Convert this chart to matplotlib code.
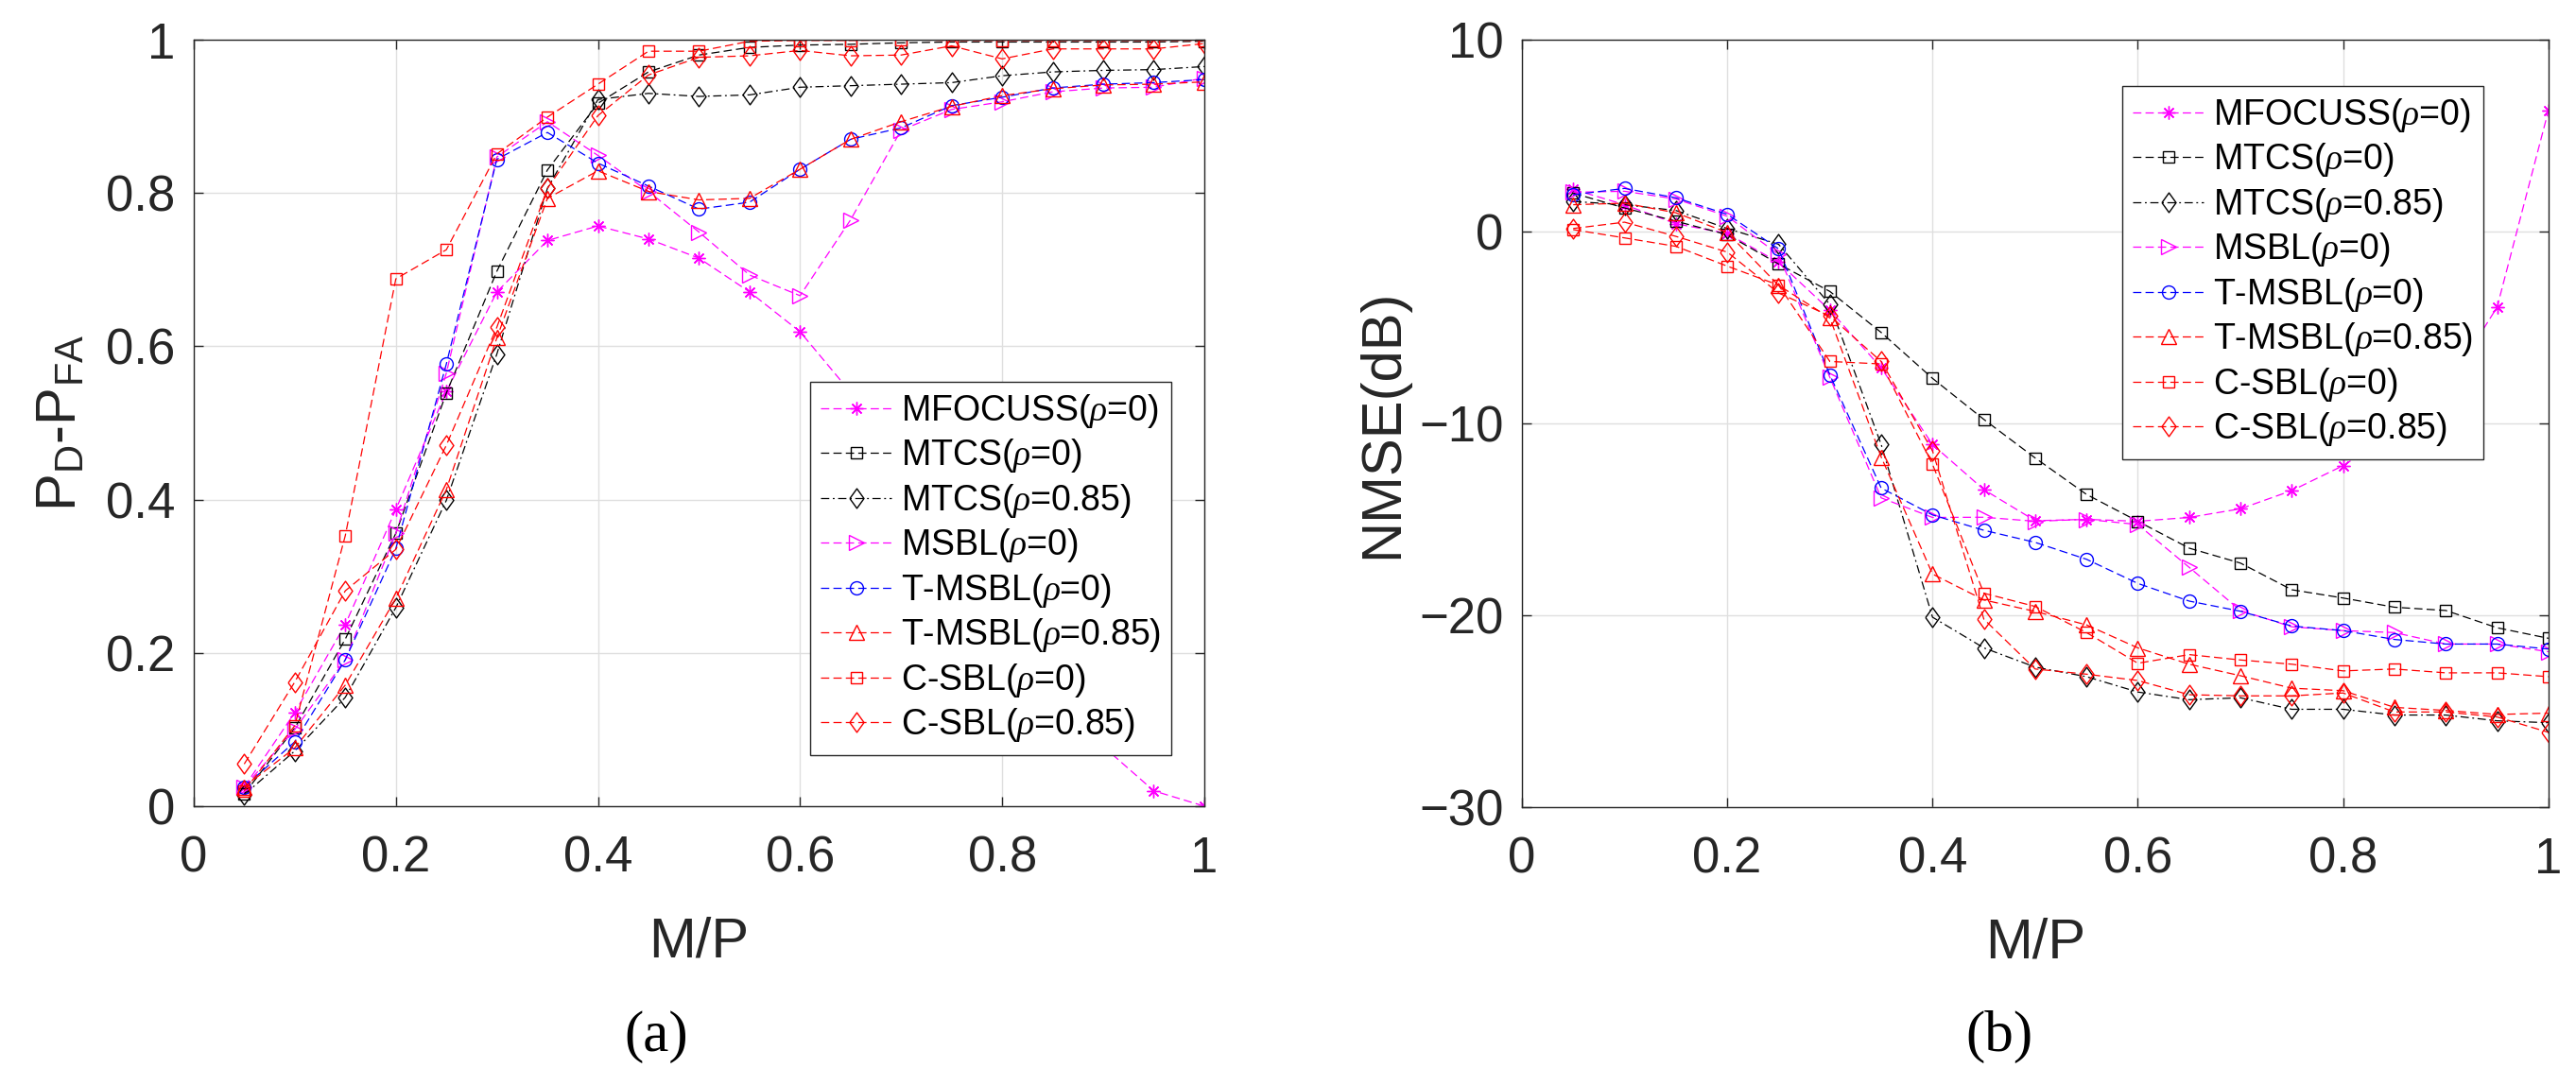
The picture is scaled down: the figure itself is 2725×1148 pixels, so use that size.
import matplotlib
matplotlib.use("Agg")
import matplotlib.pyplot as plt

plt.rcParams['font.family'] = ['Liberation Sans', 'DejaVu Sans']
plt.rcParams['mathtext.fontset'] = 'custom'
plt.rcParams['mathtext.rm'] = 'Liberation Sans'
plt.rcParams['mathtext.it'] = 'Liberation Serif:italic'

# M/P values
mp = [0.05, 0.10, 0.15, 0.20, 0.25, 0.30, 0.35, 0.40, 0.45, 0.50,
      0.55, 0.60, 0.65, 0.70, 0.75, 0.80, 0.85, 0.90, 0.95, 1.00]

labels = [r'MFOCUSS($\rho$=0)', r'MTCS($\rho$=0)', r'MTCS($\rho$=0.85)', r'MSBL($\rho$=0)',
          r'T-MSBL($\rho$=0)', r'T-MSBL($\rho$=0.85)', r'C-SBL($\rho$=0)', r'C-SBL($\rho$=0.85)']

# (a) PD - PFA
mfocuss_pd = [0.025, 0.122, 0.237, 0.387, 0.541, 0.671, 0.738, 0.757, 0.740, 0.715,
              0.671, 0.619, 0.54, 0.45, 0.35, 0.25, 0.16, 0.078, 0.020, 0.0]
mtcs0_pd = [0.016, 0.102, 0.218, 0.356, 0.539, 0.698, 0.830, 0.917, 0.958, 0.980,
            0.990, 0.993, 0.994, 0.996, 0.997, 0.997, 0.997, 0.997, 0.997, 0.998]
mtcs85_pd = [0.015, 0.072, 0.142, 0.259, 0.399, 0.590, 0.806, 0.922, 0.930, 0.926,
             0.928, 0.938, 0.940, 0.942, 0.944, 0.953, 0.958, 0.960, 0.961, 0.965]
msbl_pd = [0.025, 0.100, 0.191, 0.356, 0.565, 0.847, 0.893, 0.849, 0.802, 0.749,
           0.693, 0.666, 0.765, 0.882, 0.909, 0.919, 0.932, 0.937, 0.938, 0.950]
tmsbl0_pd = [0.025, 0.084, 0.191, 0.336, 0.577, 0.844, 0.879, 0.839, 0.809, 0.779,
             0.788, 0.831, 0.870, 0.885, 0.914, 0.925, 0.937, 0.942, 0.944, 0.948]
tmsbl85_pd = [0.025, 0.076, 0.158, 0.271, 0.413, 0.611, 0.793, 0.829, 0.802, 0.791,
              0.793, 0.831, 0.870, 0.893, 0.913, 0.927, 0.936, 0.941, 0.942, 0.945]
csbl0_pd = [0.020, 0.105, 0.353, 0.688, 0.726, 0.851, 0.899, 0.942, 0.985, 0.985,
            0.998, 0.999, 0.999, 1.000, 0.999, 0.999, 0.999, 0.999, 0.999, 0.999]
csbl85_pd = [0.055, 0.162, 0.281, 0.335, 0.471, 0.625, 0.806, 0.901, 0.954, 0.977,
             0.979, 0.986, 0.979, 0.980, 0.992, 0.975, 0.988, 0.988, 0.988, 0.995]

# (b) NMSE (dB)
mfocuss_nmse = [2.2, 1.4, 0.41, -0.1, -1.6, -4.1, -7.1, -11.1, -13.45, -15.07,
                -15.0, -15.1, -14.9, -14.45, -13.5, -12.2, -10.5, -8.2, -3.94, 6.31]
mtcs0_nmse = [2.0, 1.23, 0.54, -0.16, -1.69, -3.12, -5.26, -7.65, -9.79, -11.8,
              -13.7, -15.1, -16.5, -17.28, -18.67, -19.1, -19.58, -19.75, -20.65, -21.2]
mtcs85_nmse = [1.57, 1.4, 1.1, 0.16, -0.66, -3.8, -11.1, -20.1, -21.7, -22.7,
               -23.2, -24.0, -24.4, -24.3, -24.9, -24.9, -25.2, -25.2, -25.5, -25.6]
msbl_nmse = [2.05, 2.1, 1.7, 0.8, -1.2, -7.6, -13.88, -14.9, -14.89, -15.1,
             -15.0, -15.27, -17.5, -19.75, -20.6, -20.8, -20.9, -21.5, -21.5, -21.9]
tmsbl0_nmse = [1.92, 2.25, 1.76, 0.9, -0.9, -7.47, -13.37, -14.77, -15.57, -16.2,
               -17.08, -18.34, -19.26, -19.79, -20.56, -20.8, -21.26, -21.5, -21.5, -21.76]
tmsbl85_nmse = [1.4, 1.48, 0.98, -0.05, -2.8, -4.5, -11.75, -17.85, -19.2, -19.8,
                -20.5, -21.7, -22.55, -23.15, -23.8, -23.93, -24.8, -24.96, -25.17, -25.1]
csbl0_nmse = [0.1, -0.33, -0.77, -1.8, -2.79, -6.77, -6.9, -12.13, -18.85, -19.54,
              -20.9, -22.5, -22.05, -22.33, -22.55, -22.9, -22.8, -23.0, -23.0, -23.2]
csbl85_nmse = [0.16, 0.49, -0.25, -1.07, -3.2, -4.4, -6.77, -11.43, -20.2, -22.8,
               -23.07, -23.4, -24.14, -24.2, -24.2, -24.05, -25.04, -25.04, -25.3, -26.1]

# line styles: color, dashes, marker, marker size
dash = (7, 3.5)
dashdot = (7, 3, 1.5, 3)
diamond = [(-0.36, 0), (0, 0.5), (0.36, 0), (0, -0.5), (-0.36, 0)]
styles = [
    ('#ff00ff', dash, (8, 2, 0), 10),
    ('black', dash, 's', 8.6),
    ('black', dashdot, diamond, 15),
    ('#ff00ff', dash, '>', 12),
    ('blue', dash, 'o', 10),
    ('red', dash, '^', 12),
    ('red', dash, 's', 8.6),
    ('red', dash, diamond, 15),
]

pd_series = [mfocuss_pd, mtcs0_pd, mtcs85_pd, msbl_pd, tmsbl0_pd, tmsbl85_pd, csbl0_pd, csbl85_pd]
nmse_series = [mfocuss_nmse, mtcs0_nmse, mtcs85_nmse, msbl_nmse, tmsbl0_nmse, tmsbl85_nmse,
               csbl0_nmse, csbl85_nmse]

fig = plt.figure(figsize=(27.25, 11.48), dpi=100)
ax1 = fig.add_axes([0.0752, 0.2570, 0.3923, 0.7064])
ax2 = fig.add_axes([0.5908, 0.2561, 0.3985, 0.7073])

gray = '#262626'


def draw(ax, series):
    for vals, lab, (c, d, m, ms) in zip(series, labels, styles):
        ax.plot(mp, vals, color=c, dashes=d, lw=0.9, marker=m, ms=ms,
                mfc='none', mec=c, mew=1.0, label=lab)
    ax.set_xlim(0, 1)
    ax.set_xticks([0, 0.2, 0.4, 0.6, 0.8, 1])
    ax.set_xticklabels(['0', '0.2', '0.4', '0.6', '0.8', '1'])
    ax.grid(True, color='#dfdfdf', lw=1.0)
    ax.set_axisbelow(True)
    ax.tick_params(direction='in', top=True, right=True, length=7, width=1.0,
                   colors=gray, labelsize=38)
    ax.tick_params(axis='x', pad=22)
    ax.tick_params(axis='y', pad=14)
    for s in ax.spines.values():
        s.set_color(gray)
        s.set_linewidth(1.0)
    ax.set_xlabel('M/P', fontsize=43, color=gray, labelpad=26)


draw(ax1, pd_series)
ax1.set_ylim(0, 1)
ax1.set_yticks([0, 0.2, 0.4, 0.6, 0.8, 1])
ax1.set_yticklabels(['0', '0.2', '0.4', '0.6', '0.8', '1'])
ax1.set_ylabel(r'P$_\mathrm{D}$-P$_\mathrm{FA}$', fontsize=43, color=gray, labelpad=14)

draw(ax2, nmse_series)
ax2.set_ylim(-30, 10)
ax2.set_yticks([-30, -20, -10, 0, 10])
ax2.set_ylabel('NMSE(dB)', fontsize=43, color=gray, labelpad=8)

leg_kw = dict(loc='upper left', fontsize=27, frameon=True, fancybox=False,
              edgecolor=gray, framealpha=1, borderaxespad=0, borderpad=0.3,
              handlelength=2.0, handletextpad=0.25, labelspacing=0.2)
l1 = ax1.legend(bbox_to_anchor=(0.61, 0.554), **leg_kw)
l2 = ax2.legend(bbox_to_anchor=(0.585, 0.940), **leg_kw)
for lg in (l1, l2):
    lg.get_frame().set_linewidth(1.0)

fig.text(0.2547, 0.0444, '(a)', fontsize=44, family='Liberation Serif', ha='center', va='center')
fig.text(0.776, 0.0444, '(b)', fontsize=44, family='Liberation Serif', ha='center', va='center')

fig.savefig('out.png', dpi=100)
